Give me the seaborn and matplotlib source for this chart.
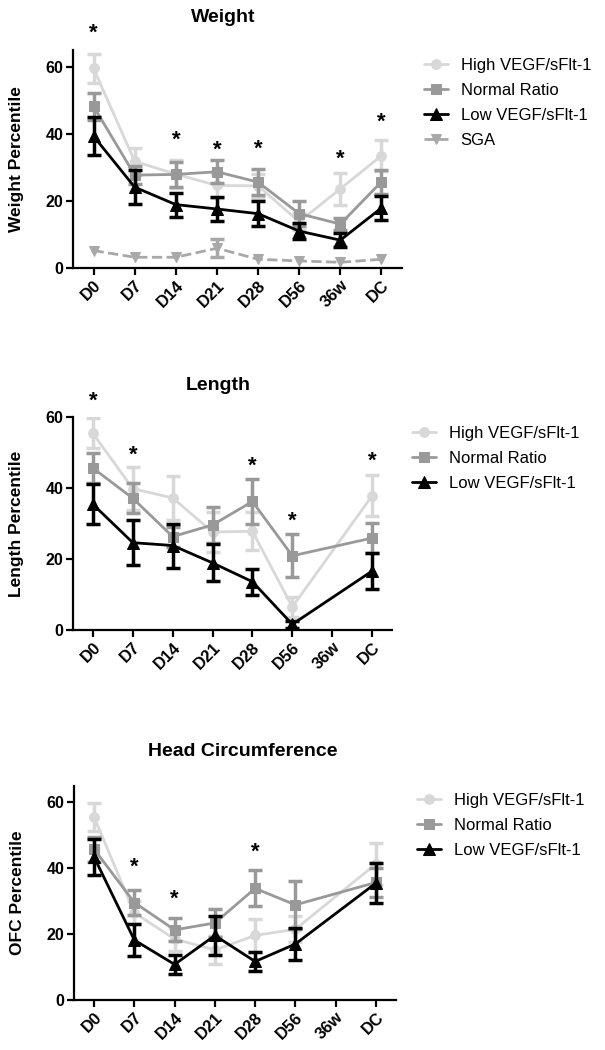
import numpy as np
import matplotlib
matplotlib.use('Agg')
import matplotlib.pyplot as plt
import seaborn as sns

# time points
days = ['D0', 'D7', 'D14', 'D21', 'D28', 'D56', '36w', 'DC']
nan = np.nan

# Weight percentile (mean, SEM)
w_high = [59.5, 31.8, 28.0, 24.6, 24.5, 13.8, 23.6, 33.5]
w_high_sem = [4.2, 4.0, 4.2, 3.6, 3.6, 2.5, 4.7, 4.6]
w_norm = [48.2, 27.7, 27.9, 28.7, 25.6, 16.2, 13.1, 25.7]
w_norm_sem = [4.0, 2.8, 3.6, 3.4, 3.8, 3.7, 1.7, 3.5]
w_low = [39.3, 24.1, 18.9, 17.6, 16.2, 11.0, 8.3, 17.9]
w_low_sem = [5.6, 5.1, 3.6, 3.7, 3.7, 2.5, 2.0, 3.6]
w_sga = [5.2, 3.2, 3.2, 5.9, 2.6, 2.1, 1.7, 2.6]
w_sga_sem = [0, 0, 0, 2.7, 0, 0, 0, 0]
w_star_x = [0, 2, 3, 4, 6, 7]
w_star_y = [70, 38, 35, 35.5, 32.5, 43.5]

# Length percentile
l_high = [55.4, 39.8, 37.2, 27.6, 27.8, 6.5, nan, 37.8]
l_high_sem = [4.2, 6.0, 6.2, 5.6, 5.4, 2.8, nan, 5.8]
l_norm = [45.6, 37.1, 26.3, 29.6, 36.2, 20.9, nan, 25.9]
l_norm_sem = [4.3, 4.2, 2.8, 5.1, 6.4, 6.1, nan, 4.2]
l_low = [35.4, 24.6, 23.8, 18.9, 13.6, 1.6, nan, 16.6]
l_low_sem = [5.6, 6.3, 6.2, 5.2, 3.7, 1.0, nan, 5.0]
l_star_x = [0, 1, 4, 5, 7]
l_star_y = [64.5, 49.2, 46.2, 30.6, 47.6]

# Head circumference (OFC) percentile
o_high = [55.5, 26.5, 18.5, 15.2, 19.6, 21.5, nan, 41.3]
o_high_sem = [4.2, 3.5, 3.5, 4.2, 5.0, 4.0, nan, 6.3]
o_norm = [45.8, 29.6, 21.3, 23.4, 33.9, 28.9, nan, 35.7]
o_norm_sem = [3.8, 3.8, 3.5, 4.3, 5.5, 7.3, nan, 4.5]
o_low = [43.4, 18.2, 10.8, 19.6, 11.7, 17.0, nan, 35.5]
o_low_sem = [5.4, 4.9, 2.8, 6.0, 2.8, 5.0, nan, 6.0]
o_star_x = [1, 2, 4]
o_star_y = [40.2, 30.6, 45.0]

sns.set_style('ticks')
plt.rcParams['font.family'] = ['Liberation Sans', 'DejaVu Sans']
plt.rcParams['text.color'] = 'black'
plt.rcParams['axes.labelcolor'] = 'black'
plt.rcParams['xtick.color'] = 'black'
plt.rcParams['ytick.color'] = 'black'

C_HIGH = '#d8d8d8'
C_NORM = '#999999'
C_LOW = '#000000'
C_SGA = '#a8a8a8'


def draw_series(ax, vals, sem, color, marker, label, ls='-', ms=7, elw=2.5):
    x = np.arange(len(days))
    y = np.array(vals, dtype=float)
    e = np.array(sem, dtype=float)
    ok = ~np.isnan(y)
    sns.lineplot(x=x[ok], y=y[ok], ax=ax, color=color, marker=marker,
                 markersize=ms, markeredgecolor=color, linewidth=2,
                 linestyle=ls, errorbar=None, label=label)
    has_err = ok & (np.nan_to_num(e) > 0)
    ax.errorbar(x[has_err], y[has_err], yerr=e[has_err], fmt='none',
                ecolor=color, elinewidth=elw, capsize=4.8, capthick=elw)


def style_axes(ax, ylabel, ytop, axw):
    ax.set_xlim(-0.5, 7.5)
    ax.set_ylim(0, ytop)
    ax.set_yticks([0, 20, 40, 60])
    ax.set_xticks(np.arange(len(days)))
    ax.set_xticklabels(days, rotation=45, ha='right', rotation_mode='anchor',
                       fontsize=12, fontweight='bold')
    for t in ax.get_yticklabels():
        t.set_fontsize(11.5)
        t.set_fontweight('bold')
    ax.set_ylabel(ylabel, fontsize=12.5, fontweight='bold')
    ax.yaxis.set_label_coords(-49 / axw, 0.5)
    ax.set_xlabel('')
    sns.despine(ax=ax)
    for s in ['left', 'bottom']:
        ax.spines[s].set_linewidth(1.6)
        ax.spines[s].set_color('black')
    ax.tick_params(width=1.6, length=5, color='black', pad=2)


def stars(ax, xs, ys):
    for x, y in zip(xs, ys):
        ax.text(x, y, '*', ha='center', va='center', fontsize=16,
                fontweight='bold', clip_on=False)


fig = plt.figure(figsize=(6.05, 10.5), dpi=100)
W, H = 605, 1050


def add_ax(left, right, top, bottom):
    return fig.add_axes([left / W, 1 - bottom / H, (right - left) / W, (bottom - top) / H])


# Weight
ax1 = add_ax(73, 402, 50, 268)
draw_series(ax1, w_high, w_high_sem, C_HIGH, 'o', 'High VEGF/sFlt-1')
draw_series(ax1, w_norm, w_norm_sem, C_NORM, 's', 'Normal Ratio')
draw_series(ax1, w_low, w_low_sem, C_LOW, '^', 'Low VEGF/sFlt-1', ms=8)
draw_series(ax1, w_sga, w_sga_sem, C_SGA, 'v', 'SGA', ls='--')
style_axes(ax1, 'Weight Percentile', 65, 329)
stars(ax1, w_star_x, w_star_y)

# Length
ax2 = add_ax(73, 392, 417, 630)
draw_series(ax2, l_high, l_high_sem, C_HIGH, 'o', 'High VEGF/sFlt-1')
draw_series(ax2, l_norm, l_norm_sem, C_NORM, 's', 'Normal Ratio')
draw_series(ax2, l_low, l_low_sem, C_LOW, '^', 'Low VEGF/sFlt-1', ms=8)
style_axes(ax2, 'Length Percentile', 60, 319)
stars(ax2, l_star_x, l_star_y)

# Head circumference
ax3 = add_ax(74, 396, 786, 1000)
draw_series(ax3, o_high, o_high_sem, C_HIGH, 'o', 'High VEGF/sFlt-1')
draw_series(ax3, o_norm, o_norm_sem, C_NORM, 's', 'Normal Ratio')
draw_series(ax3, o_low, o_low_sem, C_LOW, '^', 'Low VEGF/sFlt-1', ms=8)
style_axes(ax3, 'OFC Percentile', 65, 322)
stars(ax3, o_star_x, o_star_y)

# legends
for ax, (lx, ly) in zip([ax1, ax2, ax3], [(424, 58), (412, 426), (417, 793)]):
    ax.legend(loc='upper left', bbox_to_anchor=(lx / W, 1 - ly / H),
              bbox_transform=fig.transFigure, frameon=False, fontsize=12,
              handlelength=1.45, handletextpad=0.75, labelspacing=0.6,
              borderpad=0, borderaxespad=0)

# titles
fig.text(223 / W, 1 - 17 / H, 'Weight', ha='center', va='center', fontsize=14, fontweight='bold')
fig.text(218 / W, 1 - 385 / H, 'Length', ha='center', va='center', fontsize=14, fontweight='bold')
fig.text(243 / W, 1 - 752 / H, 'Head Circumference', ha='center', va='center', fontsize=14, fontweight='bold')

fig.savefig('out.png', dpi=100)
